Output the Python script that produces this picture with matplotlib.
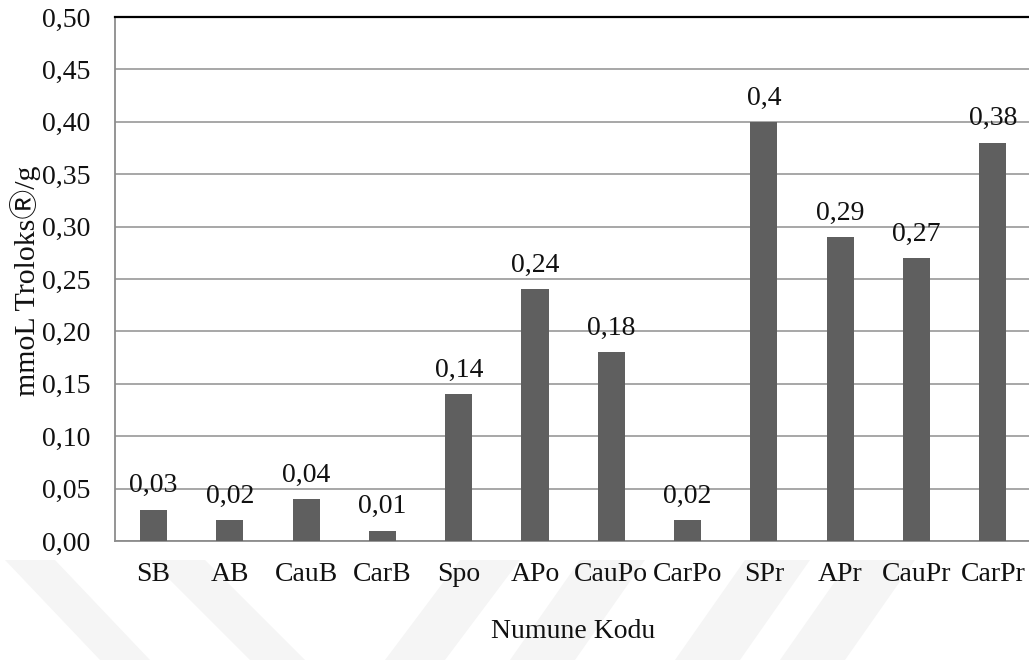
import numpy as np
import matplotlib.pyplot as plt
from matplotlib.patches import Polygon

# Numune kodlari ve antioksidan degerleri (mmoL Troloks/g)
kodlar = ['SB', 'AB', 'CauB', 'CarB', 'Spo', 'APo', 'CauPo', 'CarPo',
          'SPr', 'APr', 'CauPr', 'CarPr']
degerler = [0.03, 0.02, 0.04, 0.01, 0.14, 0.24, 0.18, 0.02,
            0.40, 0.29, 0.27, 0.38]
etiketler = ['0,03', '0,02', '0,04', '0,01', '0,14', '0,24', '0,18', '0,02',
             '0,4', '0,29', '0,27', '0,38']
y_ticks = np.arange(0, 0.51, 0.05)

W, H = 1029, 660
fig = plt.figure(figsize=(W / 100, H / 100), dpi=100)
fig.patch.set_facecolor('white')

# soluk filigran seritleri (piksel koordinatlari)
seritler = [
    [(5, 560), (55, 560), (150, 660), (100, 660)],
    [(150, 560), (205, 560), (305, 660), (250, 660)],
    [(460, 560), (520, 560), (445, 660), (385, 660)],
    [(580, 560), (645, 560), (575, 660), (510, 660)],
    [(745, 560), (810, 560), (740, 660), (675, 660)],
    [(850, 560), (915, 560), (845, 660), (780, 660)],
]
for s in seritler:
    pts = [(x / W, 1 - y / H) for x, y in s]
    fig.patches.append(Polygon(pts, closed=True, transform=fig.transFigure,
                               facecolor='#f5f5f5', edgecolor='none', zorder=-5))

ax = fig.add_axes([115.3 / W, 1 - 541 / H, 915.7 / W, 524 / H])
ax.set_facecolor('white')

serif = ['Liberation Serif', 'DejaVu Serif', 'Noto Sans CJK JP']
fs = 20
x = np.arange(len(kodlar))
ax.bar(x, degerler, width=0.354, color='#5f5f5f', zorder=3)

for xi, v, t in zip(x, degerler, etiketler):
    ax.annotate(t, (xi, v), xytext=(0, 12.5), textcoords='offset points',
                ha='center', va='baseline', fontsize=fs, family=serif,
                color='#111111', zorder=4)

ax.set_xlim(-0.5, len(kodlar) - 0.5)
ax.set_ylim(0, 0.5)
ax.set_yticks(y_ticks)
ax.set_yticklabels([f'{v:.2f}'.replace('.', ',') for v in y_ticks])
ax.set_xticks(x)
ax.set_xticklabels(kodlar)
for lab in ax.get_xticklabels() + ax.get_yticklabels():
    lab.set_family(serif)
    lab.set_fontsize(fs)
    lab.set_color('#111111')
ax.tick_params(axis='both', length=0)
ax.tick_params(axis='y', pad=18)
ax.tick_params(axis='x', pad=15)

ax.yaxis.grid(True, color='#a0a0a0', linewidth=1.3, zorder=1)
ax.set_axisbelow(True)

ax.spines['top'].set_color('black')
ax.spines['top'].set_linewidth(1.6)
ax.spines['top'].set_zorder(5)
for side in ['left', 'bottom']:
    ax.spines[side].set_color('#8c8c8c')
    ax.spines[side].set_linewidth(1.3)
ax.spines['right'].set_visible(False)

fig.text(26 / W, 1 - 281 / H, 'mmoL Troloks\u24c7/g', rotation=90,
         ha='center', va='center', fontsize=21.5, family=serif, color='#111111')
fig.text(573 / W, 1 - 631 / H, 'Numune Kodu', ha='center', va='center',
         fontsize=fs, family=serif, color='#111111')

fig.savefig('out.png', dpi=100, facecolor='white')
